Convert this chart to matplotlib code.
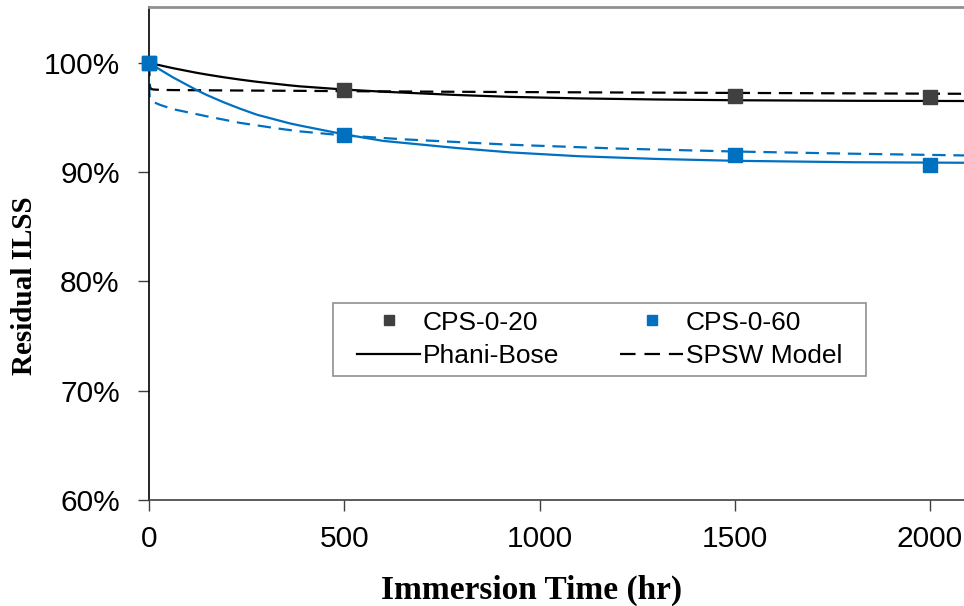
import matplotlib
matplotlib.use('Agg')
import matplotlib.pyplot as plt
from matplotlib.lines import Line2D
from matplotlib.patches import Rectangle
from matplotlib.ticker import FuncFormatter

# measured points
t_meas = [0, 500, 1500, 2000]
cps_20 = [100.0, 97.5, 96.95, 96.85]
cps_60 = [100.0, 93.4, 91.6, 90.65]

# Phani-Bose curves
t_pb = [0, 20, 62, 122, 148, 190, 233, 276, 361, 387, 500, 600, 788, 925,
        1100, 1300, 1500, 1800, 2090]
phani_20 = [100.0, 99.83, 99.5, 99.08, 98.92, 98.68, 98.46, 98.26, 97.93, 97.84,
            97.55, 97.35, 97.05, 96.88, 96.74, 96.64, 96.57, 96.52, 96.5]
phani_60 = [100.0, 99.55, 98.65, 97.5, 97.05, 96.4, 95.8, 95.25, 94.45, 94.25,
            93.45, 92.85, 92.2, 91.8, 91.45, 91.2, 91.03, 90.9, 90.85]

# SPSW model curves
t_sp = [0, 1, 2, 5, 12, 28, 62, 148, 233, 335, 387, 500, 650, 925,
        1200, 1500, 1800, 2090]
spsw_20 = [100.0, 98.8, 97.9, 97.6, 97.55, 97.52, 97.5, 97.48, 97.46, 97.44,
           97.43, 97.4, 97.37, 97.32, 97.28, 97.24, 97.2, 97.16]
spsw_60 = [100.0, 97.2, 96.9, 96.6, 96.4, 96.15, 95.75, 95.1, 94.5, 93.96,
           93.72, 93.35, 93.0, 92.5, 92.15, 91.88, 91.68, 91.52]

dark = '#404040'
blue = '#0070C0'

fig = plt.figure(figsize=(9.64, 6.06), dpi=100)
ax = fig.add_axes([149 / 964, 106 / 606, 815 / 964, 599 / 606 - 106 / 606])

dash = (0, (6, 3.5))
ax.plot(t_pb, phani_20, color='black', lw=1.6)
ax.plot(t_sp, spsw_20, color='black', lw=1.6, ls=dash)
ax.plot(t_pb, phani_60, color=blue, lw=1.6)
ax.plot(t_sp, spsw_60, color=blue, lw=1.6, ls=dash)
ax.plot(t_meas, cps_20, ls='none', marker='s', ms=9.5, color=dark, clip_on=False, zorder=5)
ax.plot(t_meas, cps_60, ls='none', marker='s', ms=9.5, color=blue, clip_on=False, zorder=5)

ax.set_xlim(0, 2087)
ax.set_ylim(60, 105.1)
ax.set_xticks([0, 500, 1000, 1500, 2000])
ax.set_yticks([60, 70, 80, 90, 100])
ax.yaxis.set_major_formatter(FuncFormatter(lambda v, p: f'{v:.0f}%'))

ax.spines['right'].set_visible(False)
ax.spines['top'].set_color('#909090')
ax.spines['top'].set_linewidth(2)
ax.spines['left'].set_color('black')
ax.spines['bottom'].set_color(dark)
ax.spines['left'].set_linewidth(1.2)
ax.spines['bottom'].set_linewidth(1.2)

ax.tick_params(axis='both', direction='out', length=8, width=1, colors=dark,
               labelcolor='black', labelsize=21.5)
ax.tick_params(axis='y', pad=13)
ax.tick_params(axis='x', pad=10)
for lab in ax.get_xticklabels() + ax.get_yticklabels():
    lab.set_family('Liberation Sans')

ax.set_xlabel('Immersion Time (hr)', family='Liberation Serif', fontweight='bold',
              fontsize=24)
ax.xaxis.set_label_coords(0.469, -0.151)
ax.set_ylabel('Residual ILSS', family='Liberation Serif', fontweight='bold',
              fontsize=21)
ax.yaxis.set_label_coords(-0.136, 0.434)

# legend frame (wider side padding than the vertical one)
ax.add_patch(Rectangle((0.2258, 0.252), 0.654, 0.1484, transform=ax.transAxes,
                       facecolor='white', edgecolor='#909090', lw=1.2, zorder=6))

handles = [
    Line2D([], [], ls='none', marker='s', ms=7.5, color=dark),
    Line2D([], [], color='black', lw=1.6),
    Line2D([], [], ls='none', marker='s', ms=7.5, color=blue),
    Line2D([], [], color='black', lw=1.6, ls=(0, (7, 4))),
]
labels = ['CPS-0-20', 'Phani-Bose', 'CPS-0-60', 'SPSW Model']
leg = ax.legend(handles, labels, ncol=2, loc='center',
                bbox_to_anchor=(0.553, 0.326), frameon=False,
                prop={'family': 'Liberation Sans', 'size': 19},
                handlelength=2.4, handletextpad=0.1, borderpad=0.3,
                labelspacing=0.35, columnspacing=2.3, borderaxespad=0)
leg.set_zorder(7)

fig.savefig('out.png', dpi=100)
